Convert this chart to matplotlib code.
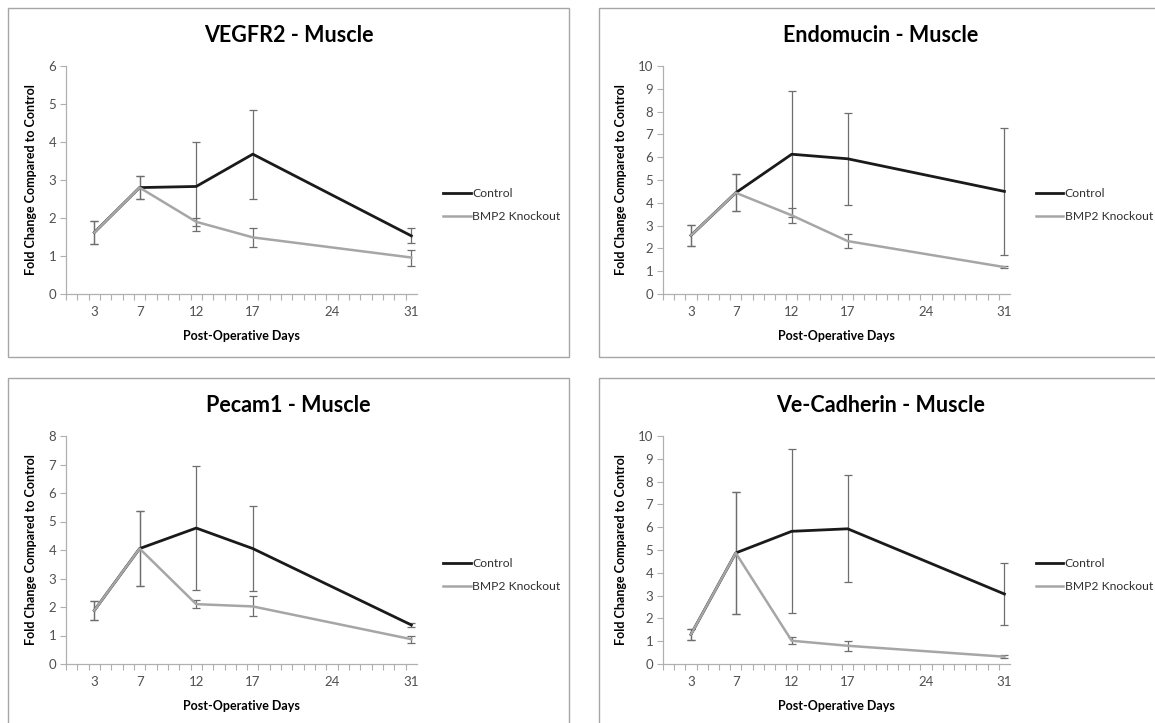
import matplotlib
matplotlib.use("Agg")
import matplotlib.pyplot as plt
from matplotlib.patches import Rectangle
from matplotlib.ticker import FixedLocator, MultipleLocator

plt.rcParams['font.family'] = ['Lato', 'DejaVu Sans']

# data
days = [3, 7, 12, 17, 31]
day_ticks = [3, 7, 12, 17, 24, 31]

vegfr2_ctrl = [1.62, 2.80, 2.83, 3.68, 1.53]
vegfr2_ctrl_err = [0.31, 0.30, 1.17, 1.17, 0.20]
vegfr2_ko = [1.62, 2.80, 1.90, 1.49, 0.96]
vegfr2_ko_err = [0.31, 0.30, 0.10, 0.24, 0.21]

endo_ctrl = [2.57, 4.44, 6.13, 5.93, 4.50]
endo_ctrl_err = [0.47, 0.82, 2.77, 2.03, 2.80]
endo_ko = [2.57, 4.44, 3.45, 2.32, 1.18]
endo_ko_err = [0.47, 0.82, 0.33, 0.30, 0.06]

pecam_ctrl = [1.88, 4.05, 4.77, 4.05, 1.37]
pecam_ctrl_err = [0.33, 1.31, 2.18, 1.48, 0.08]
pecam_ko = [1.88, 4.05, 2.10, 2.02, 0.87]
pecam_ko_err = [0.33, 1.31, 0.13, 0.35, 0.12]

vecad_ctrl = [1.30, 4.87, 5.82, 5.93, 3.07]
vecad_ctrl_err = [0.24, 2.66, 3.60, 2.35, 1.34]
vecad_ko = [1.30, 4.87, 1.02, 0.80, 0.32]
vecad_ko_err = [0.24, 2.66, 0.16, 0.22, 0.07]

W, H = 1155, 723
fig = plt.figure(figsize=(W / 100, H / 100), dpi=100)


def px_rect(l, t, r, b):
    return [l / W, 1 - b / H, (r - l) / W, (b - t) / H]


def panel(box, axbox, title, ymax, ctrl, ctrl_err, ko, ko_err):
    l, t, r, b = box
    fig.patches.append(Rectangle((l / W, 1 - b / H), (r - l) / W, (b - t) / H,
                                 transform=fig.transFigure, fill=False,
                                 edgecolor='#a6a6a6', lw=1.0))
    # title centered on the panel box
    fig.text((l + r) / 2 / W, 1 - (t + 27) / H, title, ha='center', va='center',
             fontsize=15.5, fontweight='bold', color='black')

    ax = fig.add_axes(px_rect(*axbox))
    ax.errorbar(days, ctrl, yerr=ctrl_err, fmt='none', ecolor='#6e6e6e',
                elinewidth=0.9, capsize=3, capthick=0.9, zorder=2)
    ax.errorbar(days, ko, yerr=ko_err, fmt='none', ecolor='#6e6e6e',
                elinewidth=0.9, capsize=3, capthick=0.9, zorder=2)
    ax.plot(days, ctrl, color='#1a1a1a', lw=2.0, label='Control', zorder=3)
    ax.plot(days, ko, color='#a6a6a6', lw=1.8, label='BMP2 Knockout', zorder=4)

    ax.set_xlim(0.5, 31.5)
    ax.set_ylim(0, ymax)
    ax.xaxis.set_major_locator(FixedLocator(day_ticks))
    ax.xaxis.set_minor_locator(FixedLocator([d + 0.5 for d in range(0, 31)]))
    ax.yaxis.set_major_locator(MultipleLocator(1))
    ax.tick_params(axis='x', which='major', length=0, pad=9, labelsize=9.5,
                   labelcolor='#505050')
    ax.tick_params(axis='x', which='minor', length=4, color='#b0b0b0', width=0.8)
    ax.tick_params(axis='y', length=4, color='#b0b0b0', width=0.8, labelsize=9.5,
                   labelcolor='#505050', pad=3)
    for s in ['top', 'right']:
        ax.spines[s].set_visible(False)
    for s in ['left', 'bottom']:
        ax.spines[s].set_color('#b0b0b0')
        ax.spines[s].set_linewidth(0.9)

    ax.set_xlabel('Post-Operative Days', fontsize=9, fontweight='bold', labelpad=8)
    ax.set_ylabel('Fold Change Compared to Control', fontsize=9, fontweight='bold',
                  labelpad=8)
    ax.legend(loc='center left', bbox_to_anchor=(1.06, 0.39), borderaxespad=0,
              frameon=False, fontsize=8.7, handlelength=2.3, handletextpad=0.1,
              labelspacing=1.0, labelcolor='#303030')
    return ax


panel((8, 8, 569, 357), (66, 66, 417, 294), 'VEGFR2 - Muscle', 6,
      vegfr2_ctrl, vegfr2_ctrl_err, vegfr2_ko, vegfr2_ko_err)
panel((599, 8, 1163, 357), (663, 66, 1010, 294), 'Endomucin - Muscle', 10,
      endo_ctrl, endo_ctrl_err, endo_ko, endo_ko_err)
panel((8, 378, 569, 740), (66, 436, 417, 664), 'Pecam1 - Muscle', 8,
      pecam_ctrl, pecam_ctrl_err, pecam_ko, pecam_ko_err)
panel((599, 378, 1163, 740), (663, 436, 1010, 664), 'Ve-Cadherin - Muscle', 10,
      vecad_ctrl, vecad_ctrl_err, vecad_ko, vecad_ko_err)

fig.savefig('out.png', dpi=100)
